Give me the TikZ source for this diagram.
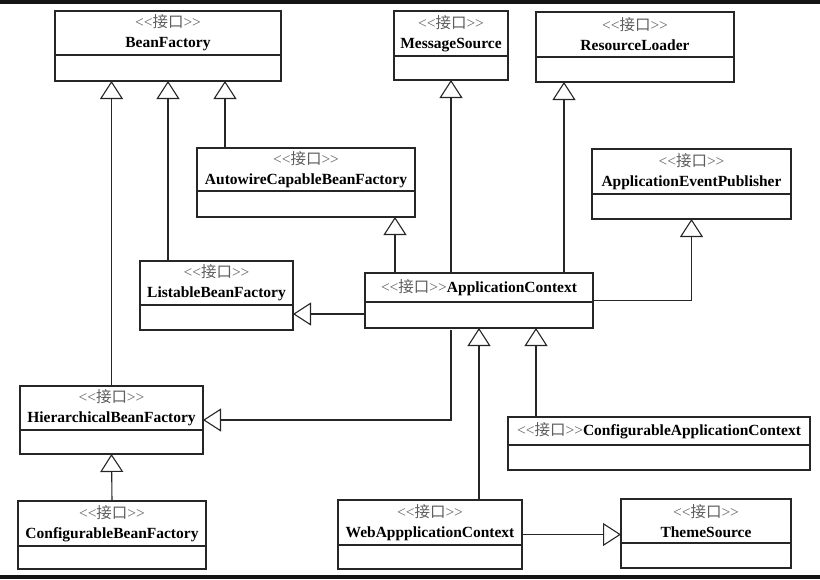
\documentclass[tikz,border=0pt]{standalone}
\usepackage{fontspec}
\setmainfont{Liberation Serif}
\newfontfamily\cjk{Noto Sans CJK SC}
\usepackage{tikz}
\usetikzlibrary{positioning, arrows.meta}

\definecolor{umlline}{HTML}{262626}
\definecolor{stereogray}{HTML}{5E5E5E}
\newcommand{\stereo}{{\color{stereogray}<{}<{\cjk 接口}>{}>}}
% interface box: name, x1, y1, x2, y2, divider y, head text
\newcommand{\iface}[7]{%
  \node[klass, minimum width={(#4-#2)*1pt}, minimum height={(#5-#3)*1pt}] (#1) at ({(#2+#4)/2},{(#3+#5)/2}) {};
  \draw[klass] (#2,#6) -- (#4,#6);
  \node[head] (#1-head) at ({(#2+#4)/2},{(#3+#6)/2}) {#7};
}

\begin{document}
\begin{tikzpicture}[x=1pt, y=-1pt,
  klass/.style={draw=umlline, line width=1.2pt, inner sep=0pt, outer sep=0pt},
  head/.style={align=center, inner sep=0pt, font=\fontsize{15.5}{20}\selectfont},
  isa/.style={draw=umlline, line width=1.1pt, -{Triangle[open, length=18pt, width=23pt]}, line join=miter}]
  \useasboundingbox (0,0) rectangle (820,579);
  \fill[black!92] (0,0) rectangle (820,4);
  \fill[black!92] (0,575) rectangle (820,579);

  \iface{bf}{55}{11}{281}{81}{55}{\stereo\\\textbf{BeanFactory}}
  \iface{ms}{394}{11}{508}{80}{56}{\stereo\\\textbf{MessageSource}}
  \iface{rl}{536}{12}{734}{82}{57}{\stereo\\\textbf{ResourceLoader}}
  \iface{acbf}{197}{148}{415}{217}{191}{\stereo\\\textbf{AutowireCapableBeanFactory}}
  \iface{aep}{592}{149}{791}{219}{194}{\stereo\\\textbf{ApplicationEventPublisher}}
  \iface{lbf}{140}{261}{293}{330}{305}{\stereo\\\textbf{ListableBeanFactory}}
  \iface{ac}{365}{273}{593}{328}{302}{\stereo\textbf{ApplicationContext}}
  \iface{hbf}{20}{386}{203}{454}{430}{\stereo\\\textbf{HierarchicalBeanFactory}}
  \iface{cac}{508}{417}{810}{470}{445}{\stereo\textbf{ConfigurableApplicationContext}}
  \iface{cbf}{18}{501}{206}{569}{546}{\stereo\\\textbf{ConfigurableBeanFactory}}
  \iface{wac}{338}{500}{522}{569}{545}{\stereo\\\textbf{WebAppplicationContext}}
  \iface{ts}{621}{499}{791}{568}{543}{\stereo\\\textbf{ThemeSource}}

  % columns and rows of the connectors
  \coordinate (bf3) at ([xshift=57pt]bf.south);
  \coordinate (acbf3) at ([xshift=89pt]acbf.south);
  \coordinate (rl3) at ([xshift=-71pt]rl.south);
  \coordinate (ac3) at ([xshift=57pt]ac.south);
  \coordinate (acl) at ([yshift=-13.5pt]ac.west);

  \draw[isa] (hbf.north) -- (hbf.north |- bf.south);
  \draw[isa] (lbf.north -| bf.south) -- (bf.south);
  \draw[isa] (acbf.north -| bf3) -- (bf3);
  \draw[isa] (ac.north -| acbf3) -- (acbf3);
  \draw[isa] (ac.north -| ms.south) -- (ms.south);
  \draw[isa] (ac.north -| rl3) -- (rl3);
  \draw[isa] (ac.east) -| (aep.south);
  \draw[isa] (acl) -- (acl -| lbf.east);
  \draw[isa, shorten <=2pt] (ac.south -| ms.south) |- (hbf.east);
  \draw[isa] (wac.north -| ac.south) -- (ac.south);
  \draw[isa] (cac.north -| ac3) -- (ac3);
  \draw[isa] (wac.east) -- (wac.east -| ts.west);
  \draw[isa] (cbf.north) -- (hbf.south);
\end{tikzpicture}
\end{document}
